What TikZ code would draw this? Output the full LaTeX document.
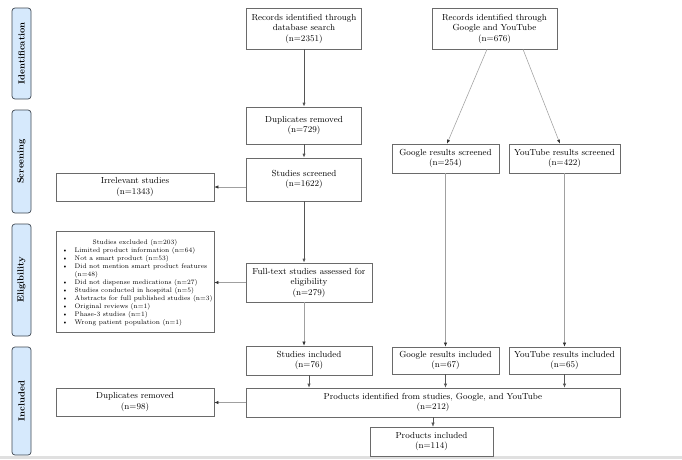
\documentclass[tikz,border=0pt]{standalone}
\usetikzlibrary{arrows.meta}
\definecolor{stagefill}{HTML}{D6E9FC}
\definecolor{stageline}{HTML}{3F4852}
\definecolor{darkarrow}{HTML}{555555}
\definecolor{lightarrow}{HTML}{A0A0A0}
\definecolor{boxline}{HTML}{6A6A6A}
\begin{document}
\begin{tikzpicture}[x=1pt,y=-1pt,
  box/.style={draw=boxline, line width=0.6pt, fill=white, inner sep=1pt, align=center,
    font=\fontsize{8.8}{10.5}\selectfont},
  stage/.style={draw=stageline, line width=0.7pt, fill=stagefill, rounded corners=3pt,
    minimum width=19pt, inner sep=0pt},
  stagetext/.style={rotate=90, font=\fontsize{9}{10}\selectfont\bfseries},
  smalltext/.style={inner sep=0pt, font=\fontsize{6.6}{8.06}\selectfont},
  darr/.style={draw=darkarrow, line width=0.9pt, -{Latex[length=4pt,width=3.2pt]}},
  larr/.style={draw=lightarrow, line width=0.55pt, -{Latex[length=4pt,width=3.2pt,color=black!80]}},
]
\useasboundingbox (0,0) rectangle (682,459);
\fill[white] (0,0) rectangle (682,459);
\fill[black!12] (0,455.5) rectangle (682,459);

% stage labels
\node[stage, minimum height=91pt] (sid) at (21.5,53.5) {};
\node[stagetext] (tid) at (sid.center) {Identification};
\node[stage, minimum height=103pt] (ssc) at (21.5,161.5) {};
\node[stagetext] (tsc) at (ssc.center) {Screening};
\node[stage, minimum height=112pt] (sel) at (21.5,280) {};
\node[stagetext] (tel) at (sel.center) {Eligibility};
\node[stage, minimum height=108pt] (sin) at (21.5,401) {};
\node[stagetext] (tin) at (sin.center) {Included};

% boxes
\node[box, minimum width=115pt, minimum height=41pt] (db) at (304,28.5)
  {Records identified through\\database search\\(n=2351)};
\node[box, minimum width=125pt, minimum height=41pt] (gy) at (494.5,28.5)
  {Records identified through\\Google and YouTube\\(n=676)};
\node[box, minimum width=115pt, minimum height=37pt] (dup) at (304,125.5)
  {Duplicates removed\\(n=729)};
\node[box, minimum width=115pt, minimum height=43pt] (scr) at (304,179.5)
  {Studies screened\\(n=1622)};
\node[box, minimum width=107pt, minimum height=29pt] (gs) at (445.5,158.5)
  {Google results screened\\(n=254)};
\node[box, minimum width=111pt, minimum height=29pt] (ys) at (564.5,158.5)
  {YouTube results screened\\(n=422)};
\node[box, minimum width=158pt, minimum height=28pt] (irr) at (135,187)
  {Irrelevant studies\\(n=1343)};
\node[box, minimum width=158pt, minimum height=101pt] (exc) at (135,281.5) {};
\node[smalltext] (exct) at (135,242.7)
  {Studies excluded (n=203)};
\node[smalltext, anchor=north west, align=left] (excl) at (62,246.6)
  {\begin{tabular}{@{}p{12.5pt}@{}l@{}}
  \textbullet & Limited product information (n=64)\\
  \textbullet & Not a smart product (n=53)\\
  \textbullet & Did not mention smart product features\\
              & (n=48)\\
  \textbullet & Did not dispense medications (n=27)\\
  \textbullet & Studies conducted in hospital (n=5)\\
  \textbullet & Abstracts for full published studies (n=3)\\
  \textbullet & Original reviews (n=1)\\
  \textbullet & Phase-3 studies (n=1)\\
  \textbullet & Wrong patient population (n=1)
  \end{tabular}};
\node[box, minimum width=126pt, minimum height=39pt] (ft) at (309,282.5)
  {Full-text studies assessed for\\eligibility\\(n=279)};
\node[box, minimum width=126pt, minimum height=29pt] (si) at (309,360.5)
  {Studies included\\(n=76)};
\node[box, minimum width=107pt, minimum height=27pt] (gi) at (445.5,360.5)
  {Google results included\\(n=67)};
\node[box, minimum width=111pt, minimum height=27pt] (yi) at (564.5,360.5)
  {YouTube results included\\(n=65)};
\node[box, minimum width=374pt, minimum height=29pt] (prod) at (433,402.5)
  {Products identified from studies, Google, and YouTube\\(n=212)};
\node[box, minimum width=158pt, minimum height=28pt] (dup2) at (135,402)
  {Duplicates removed\\(n=98)};
\node[box, minimum width=123pt, minimum height=29pt] (pin) at (431.5,441.5)
  {Products included\\(n=114)};

% connectors
\draw[darr] (db.south) -- (dup.north);
\draw[darr] (dup.south) -- (scr.north);
\draw[darr] (scr.south) -- (scr.south |- ft.north);
\draw[larr] (irr.east -| scr.west) -- (irr.east);
\draw[larr] (ft.west) -- (ft.west -| exc.east);
\draw[larr] (scr.south |- ft.south) -- (scr.south |- si.north);
\draw[larr] ([xshift=-7.5pt]gy.south) -- ([xshift=1.5pt]gs.north);
\draw[larr] ([xshift=28.5pt]gy.south) -- ([xshift=-4.5pt]ys.north);
\draw[larr] (gs.south) -- (gi.north);
\draw[larr] (ys.south) -- (yi.north);
\draw[darr, line width=0.6pt] (si.south) -- (si.south |- prod.north);
\draw[darr, line width=0.6pt] (gi.south) -- (gi.south |- prod.north);
\draw[darr, line width=0.6pt] (yi.south) -- (yi.south |- prod.north);
\draw[larr] (prod.west) -- (prod.west -| dup2.east);
\draw[darr, line width=0.4pt] ([xshift=1.5pt]pin.north |- prod.south) -- ([xshift=1.5pt]pin.north);
\end{tikzpicture}
\end{document}
